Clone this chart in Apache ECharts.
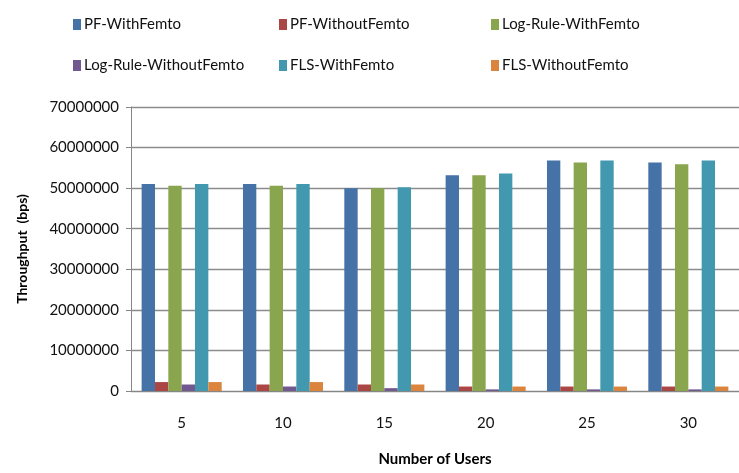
<!DOCTYPE html>
<html>
<head>
<meta charset="utf-8">
<script src="https://cdn.jsdelivr.net/npm/echarts@6/dist/echarts.min.js"></script>
<style>
  html, body { margin: 0; padding: 0; background: #fff; }
  #chart { width: 739px; height: 473px; }
</style>
</head>
<body>
<div id="chart"></div>
<script>
// values (bps)
const users = ['5', '10', '15', '20', '25', '30'];
const seriesNames = ['PF-WithFemto', 'PF-WithoutFemto', 'Log-Rule-WithFemto',
  'Log-Rule-WithoutFemto', 'FLS-WithFemto', 'FLS-WithoutFemto'];
const pfWith = [51000000, 51000000, 50000000, 53200000, 56800000, 56300000];
const pfWithout = [2200000, 1600000, 1600000, 1100000, 1100000, 1100000];
const logWith = [50600000, 50600000, 50000000, 53200000, 56300000, 55900000];
const logWithout = [1600000, 1100000, 700000, 400000, 400000, 400000];
const flsWith = [51000000, 51000000, 50200000, 53600000, 56800000, 56800000];
const flsWithout = [2200000, 2200000, 1600000, 1100000, 1100000, 1100000];

const colors = ['#4572A7', '#AA4643', '#89A54E', '#71588F', '#4198AF', '#DB843D'];
const font = 'Lato, "Open Sans", sans-serif';

// legend item positions [left, top]
const legendPos = [[68, 12], [274, 12], [486, 12], [68, 53], [274, 53], [486, 53]];

const chart = echarts.init(document.getElementById('chart'));

const allData = [pfWith, pfWithout, logWith, logWithout, flsWith, flsWithout];

let option = {
  color: colors,
  animation: false,
  legend: seriesNames.map((n, i) => ({
    data: [n],
    left: legendPos[i][0],
    top: legendPos[i][1],
    itemWidth: 8,
    itemHeight: 11,
    itemGap: 4,
    icon: 'rect',
    textStyle: { fontFamily: font, fontSize: 15, color: '#111', padding: [0, 0, 0, -2] }
  })),
  grid: { left: 131, top: 107, width: 613, height: 284 },
  xAxis: {
    type: 'category',
    data: users,
    name: 'Number of Users',
    nameLocation: 'middle',
    nameGap: 61,
    nameTextStyle: { fontFamily: font, fontSize: 15, fontWeight: 'bold', color: '#000' },
    axisLine: { lineStyle: { color: '#868686' } },
    axisTick: { length: 6, lineStyle: { color: '#868686' } },
    axisLabel: { fontFamily: font, fontSize: 15, color: '#111', margin: 25 }
  },
  yAxis: {
    type: 'value',
    min: 0,
    max: 70000000,
    interval: 10000000,
    name: 'Throughput  (bps)',
    nameLocation: 'middle',
    nameGap: 102,
    nameTextStyle: { fontFamily: font, fontSize: 14, fontWeight: 'bold', color: '#000' },
    axisLine: { show: true, lineStyle: { color: '#868686' } },
    axisTick: { show: true, length: 5, lineStyle: { color: '#868686' } },
    axisLabel: {
      fontFamily: font, fontSize: 15, color: '#111', margin: 12,
      formatter: v => String(v)
    },
    splitLine: { lineStyle: { color: '#8c8c8c', width: 1.3 } }
  },
  series: seriesNames.map((n, i) => ({
    name: n,
    type: 'bar',
    data: allData[i],
    barGap: '0%',
    barCategoryGap: '21%'
  }))
};

chart.setOption(option);
</script>
</body>
</html>
